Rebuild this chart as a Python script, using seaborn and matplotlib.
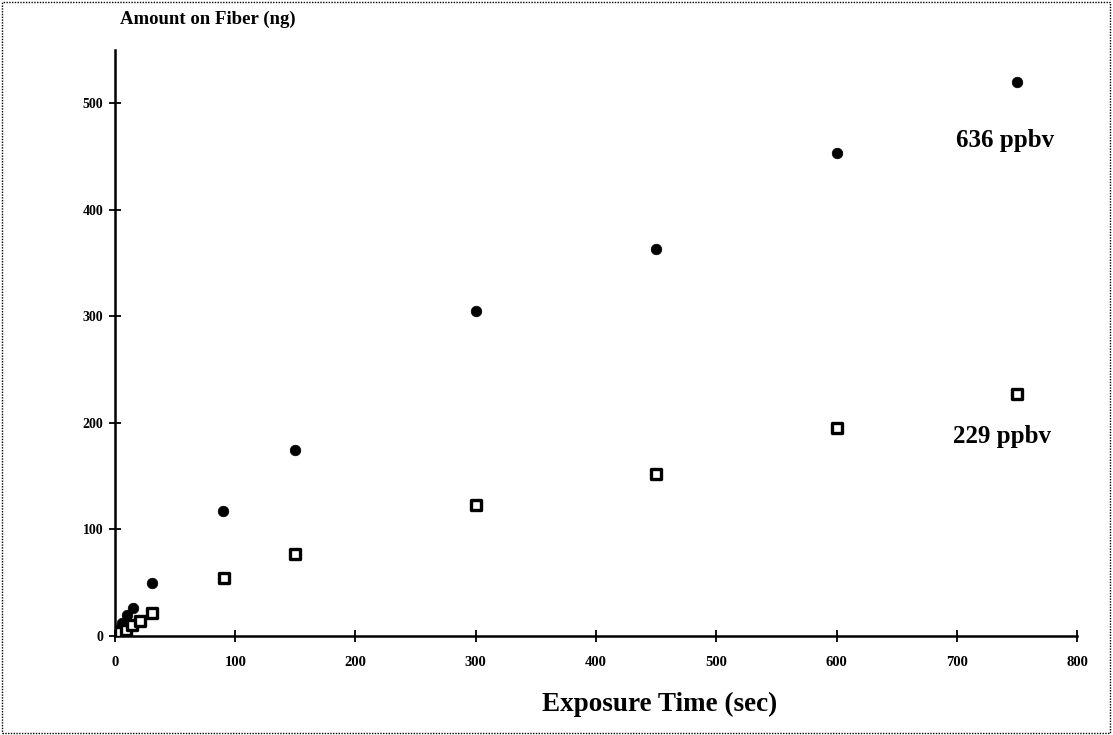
import numpy as np
import pandas as pd
import matplotlib
matplotlib.use("Agg")
import matplotlib.pyplot as plt
import seaborn as sns
from matplotlib.patches import Rectangle

# Data
time_636 = [3, 6, 10, 15, 31, 90, 150, 300, 450, 600, 750]
amount_636 = [7, 12, 20, 26, 50, 117, 175, 305, 363, 453, 520]
time_229 = [4, 9, 14, 21, 31, 91, 150, 300, 450, 600, 750]
amount_229 = [4, 6, 10, 14, 22, 54, 77, 123, 152, 195, 227]
x_ticks = [0, 100, 200, 300, 400, 500, 600, 700, 800]
y_ticks = [0, 100, 200, 300, 400, 500]

sns.set_style("white")
plt.rcParams['font.family'] = ['Liberation Serif', 'DejaVu Serif']
plt.rcParams['text.color'] = 'black'
plt.rcParams['axes.labelcolor'] = 'black'
plt.rcParams['xtick.color'] = 'black'
plt.rcParams['ytick.color'] = 'black'

fig = plt.figure(figsize=(11.13, 7.35), dpi=100)
ax = fig.add_axes([0.1033, 0.1347, 0.8644, 0.7973])

df1 = pd.DataFrame({"t": time_636, "a": amount_636})
df2 = pd.DataFrame({"t": time_229, "a": amount_229})
sns.scatterplot(data=df1, x="t", y="a", ax=ax, marker="o", s=58,
                color="black", edgecolor="black", linewidth=0.5, zorder=3)
sns.scatterplot(data=df2, x="t", y="a", ax=ax, marker="s", s=48,
                facecolor="white", edgecolor="black", linewidth=2.4, zorder=3)

ax.set_xlim(0, 800)
ax.set_ylim(0, 550)
ax.set_xticks(x_ticks)
ax.set_yticks(y_ticks)
ax.set_xticklabels([str(v) for v in x_ticks], fontsize=10.5, fontweight="bold")
ax.set_yticklabels([str(v) for v in y_ticks], fontsize=10, fontweight="bold")
ax.tick_params(axis="both", bottom=True, left=True, direction="inout",
               length=9, width=1.3, colors="black", pad=4)
ax.tick_params(axis="x", pad=10)
for s in ["top", "right"]:
    ax.spines[s].set_visible(False)
for s in ["left", "bottom"]:
    ax.spines[s].set_color("black")
    ax.spines[s].set_linewidth(1.8)

ax.set_xlabel("")
ax.set_ylabel("")
fig.text(0.593, 0.041, "Exposure Time (sec)", fontsize=19.5, fontweight="bold",
         ha="center", va="center")
fig.text(0.108, 0.974, "Amount on Fiber (ng)", fontsize=13.5, fontweight="bold",
         ha="left", va="center")

ax.text(740, 465, "636 ppbv", fontsize=18, fontweight="bold", ha="center", va="center")
ax.text(738, 187, "229 ppbv", fontsize=18, fontweight="bold", ha="center", va="center")

fig.patches.append(Rectangle((0.002, 0.003), 0.995, 0.994, transform=fig.transFigure,
                             fill=False, edgecolor="black", linewidth=1.0,
                             linestyle=(0, (1, 1))))

fig.savefig("out.png", dpi=100)
